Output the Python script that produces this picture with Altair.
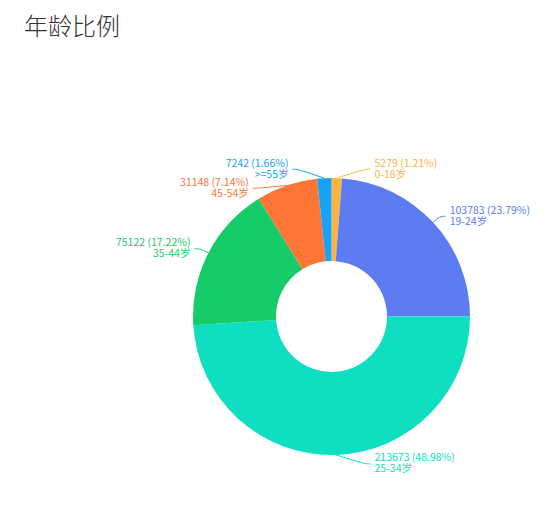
import math
import altair as alt
import pandas as pd

# ---------------- data ----------------
title_text = "年龄比例"
ages = ["0-18岁", "19-24岁", "25-34岁", "35-44岁", "45-54岁", ">=55岁"]
counts = [5279, 103783, 213673, 75122, 31148, 7242]
colors = ["#FFB341", "#5D7CF2", "#10DEC1", "#16CC69", "#FF7536", "#17A2F5"]

# ---------------- layout constants ----------------
W, H = 542, 446
PAD_TOP = 44
CX, CY = 323.5, 264.5
R_OUT, R_IN = 138.5, 55.5
R_ELBOW = R_OUT + 9
LEN2 = 6
GAP = 4
MIN_DX = 33
MIN_SEP = 19
FONT = "Noto Sans CJK SC"
FS = 10.5
LH = 11

total = sum(counts)
pcts = [c / total * 100 for c in counts]

# mid angles (clockwise from 12 o'clock)
mids = []
acc = 0.0
for c in counts:
    mids.append((acc + c / 2) / total * 2 * math.pi)
    acc += c

# label layout (pie-label style: radial elbow, push apart per side)
ey = [CY - R_ELBOW * math.cos(a) for a in mids]
side = [1 if math.sin(a) >= 0 else -1 for a in mids]
for s in (1, -1):
    idx = sorted([i for i in range(len(ages)) if side[i] == s], key=lambda i: ey[i])
    for k in range(1, len(idx)):
        if ey[idx[k]] < ey[idx[k - 1]] + MIN_SEP:
            ey[idx[k]] = ey[idx[k - 1]] + MIN_SEP
ex = []
for i in range(len(ages)):
    dy = max(-R_ELBOW + 0.1, min(R_ELBOW - 0.1, ey[i] - CY))
    dx = max(math.sqrt(R_ELBOW ** 2 - dy ** 2), MIN_DX)
    ex.append(CX + side[i] * dx)

pie_df = pd.DataFrame({"age": ages, "count": counts, "idx": list(range(len(ages)))})

line_rows = []
label_rows = []
for i, a in enumerate(mids):
    sx = CX + R_OUT * math.sin(a)
    sy = CY - R_OUT * math.cos(a)
    pts = [(sx, sy), (ex[i], ey[i]), (ex[i] + side[i] * LEN2, ey[i])]
    for k, (px, py) in enumerate(pts):
        line_rows.append({"age": ages[i], "k": k, "px": px, "py": py})
    label_rows.append({
        "age": ages[i],
        "px": ex[i] + side[i] * (LEN2 + GAP),
        "py": ey[i],
        "side": side[i],
        "text": f"{counts[i]} ({pcts[i]:.2f}%)\n{ages[i]}",
    })
line_df = pd.DataFrame(line_rows)
label_df = pd.DataFrame(label_rows)

color_scale = alt.Scale(domain=ages, range=colors)
xs = alt.Scale(domain=[0, W], nice=False, zero=False)
ys = alt.Scale(domain=[0, H], range=[0, H], nice=False, zero=False)

arcs = alt.Chart(pie_df).mark_arc(radius=R_OUT, radius2=R_IN).encode(
    theta=alt.Theta("count:Q", stack=True),
    order=alt.Order("idx:Q"),
    color=alt.Color("age:N", scale=color_scale, legend=None),
    x=alt.value(CX),
    y=alt.value(CY),
)

leaders = alt.Chart(line_df).mark_line(strokeWidth=1, interpolate="basis").encode(
    x=alt.X("px:Q", scale=xs, axis=None),
    y=alt.Y("py:Q", scale=ys, axis=None),
    detail="age:N",
    order=alt.Order("k:Q"),
    color=alt.Color("age:N", scale=color_scale, legend=None),
)

def label_layer(s, align):
    return alt.Chart(label_df).transform_filter(
        alt.datum.side == s
    ).mark_text(
        align=align, baseline="middle", font=FONT, fontSize=FS,
        lineHeight=LH, lineBreak="\n", dy=-LH / 2,
    ).encode(
        x=alt.X("px:Q", scale=xs, axis=None),
        y=alt.Y("py:Q", scale=ys, axis=None),
        text="text:N",
        color=alt.Color("age:N", scale=color_scale, legend=None),
    )

chart = alt.layer(
    arcs, leaders, label_layer(1, "left"), label_layer(-1, "right")
).properties(
    width=W,
    height=H,
    autosize=alt.AutoSizeParams(type="none"),
    padding={"left": 0, "top": PAD_TOP, "right": 0, "bottom": 0},
    title=alt.Title(
        title_text, anchor="start", fontSize=24, font=FONT,
        fontWeight=300, color="#333333", dx=16, offset=-7,
        baseline="alphabetic",
    ),
).configure_view(stroke=None)

chart.save("out.html", embed_options={"renderer": "svg", "actions": False})
